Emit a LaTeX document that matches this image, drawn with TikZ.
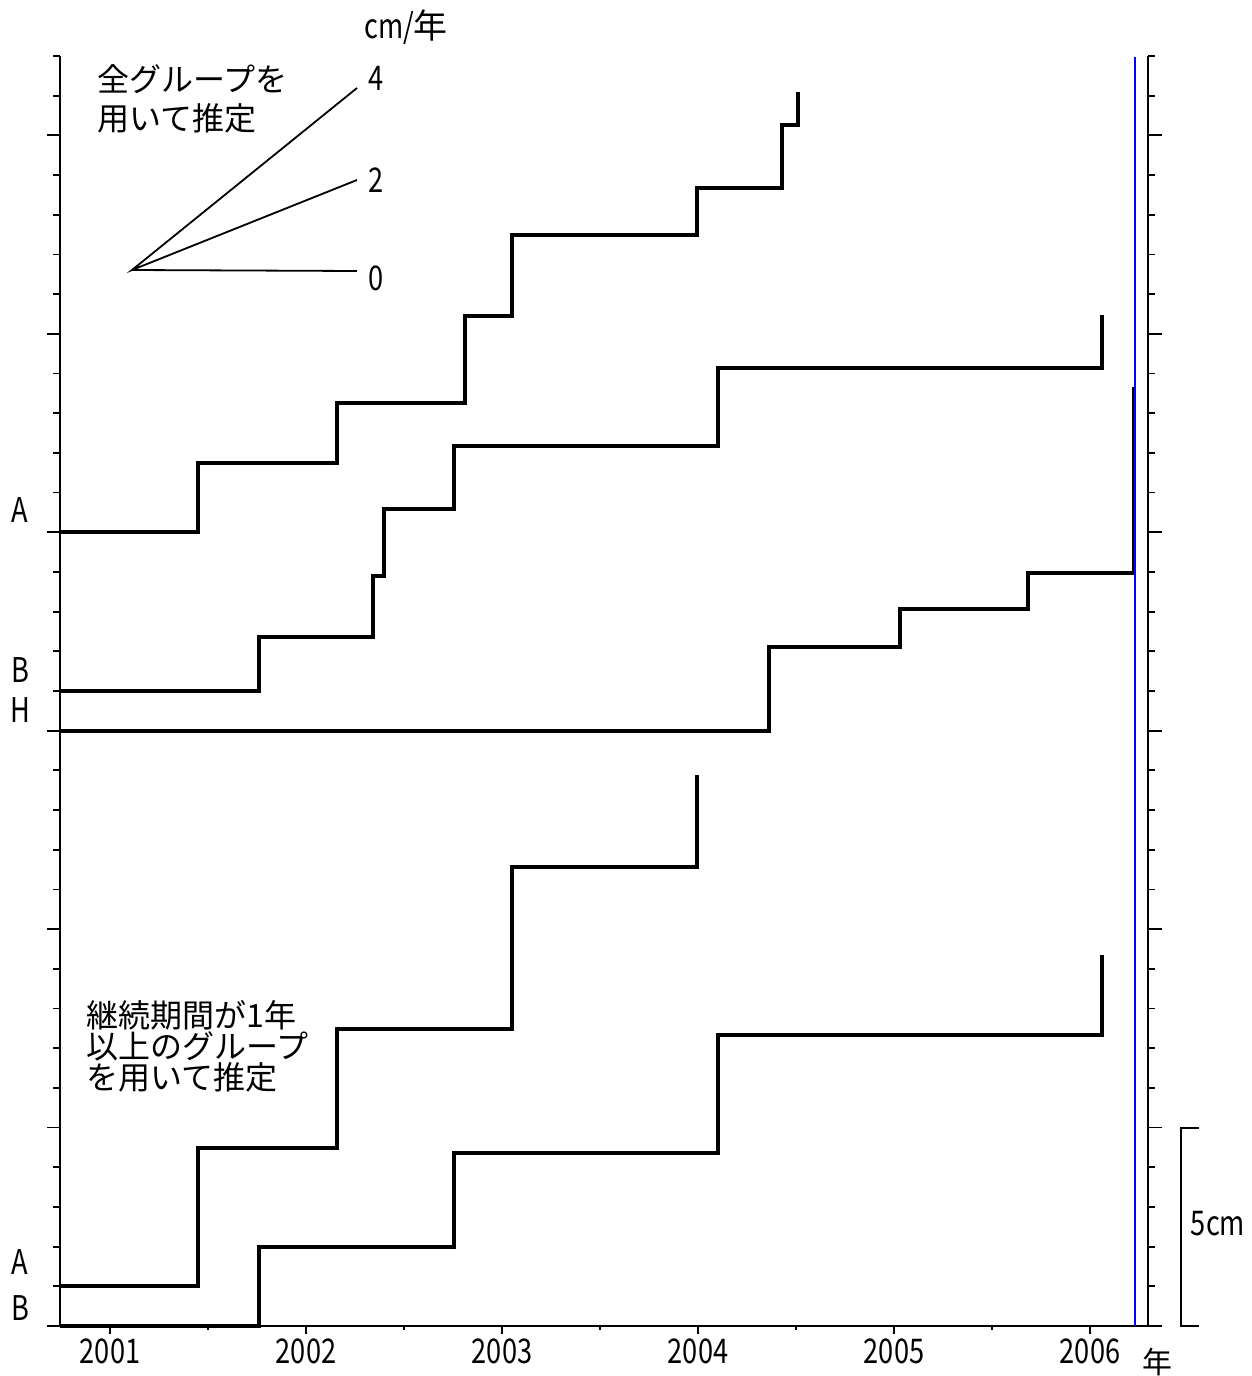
\documentclass[tikz,border=0pt]{standalone}
\usepackage{fontspec}
\setmainfont{Noto Sans CJK JP}
\newfontfamily\jpfont{Noto Sans CJK JP}
\newfontfamily\narrowfont[FakeStretch=0.8]{Noto Sans CJK JP}
\usetikzlibrary{positioning}

\begin{document}
\begin{tikzpicture}[ x = 0.5pt
                   , y = -0.5pt
                   , every node/.style = {inner sep = 0pt}
                   , axisline/.style = {line width = 0.9pt}
                   , stairline/.style = {line width = 2pt}
                   , numtext/.style = {font = \narrowfont\fontsize{17}{17}\selectfont}
                   , note/.style = { anchor = west, align = left
                                   , font = \jpfont\fontsize{16}{19.5}\selectfont}
                   ]

  \useasboundingbox (0,0) rectangle (1252,1376);

  % axes
  \draw[axisline] (60,56) -- (60,1326) -- (1148,1326) -- (1148,56);
  \foreach \k in {0,...,32} {
    \draw[axisline] (60,1326-39.6875*\k) -- ++(-7,0);
    \draw[axisline] (1148,1326-39.6875*\k) -- ++(7,0);
  }
  \foreach \k in {0,5,...,30} {
    \draw[axisline] (60,1326-39.6875*\k) -- ++(-13,0);
    \draw[axisline] (1148,1326-39.6875*\k) -- ++(14,0);
  }
  \foreach \k in {0,...,5} {
    \pgfmathtruncatemacro{\yr}{2001+\k}
    \draw[axisline] (110+196*\k,1326) -- ++(0,8);
    \node[numtext] (year\yr) at (110+196*\k,1351) {\yr};
  }
  \foreach \k in {0,...,4}
    \draw[axisline] (208+196*\k,1326) -- ++(0,4);
  \node[font = \jpfont\fontsize{15}{15}\selectfont] (nen) at (1157,1362) {年};

  % rate legend
  \coordinate (fan) at (132,270);
  \coordinate (end4) at (357,88);
  \coordinate (end2) at (357,180);
  \coordinate (end0) at (357,271);
  \draw[line width = 0.9pt] (end4) -- (fan) -- (end2) (fan) -- (end0);
  \node[numtext] (unit) at (406,27) {cm/{\jpfont 年}};
  \node[numtext] (rate4) at (376,78) {4};
  \node[numtext] (rate2) at (376,180) {2};
  \node[numtext] (rate0) at (376,278) {0};
  \node[note] (allgroups) at (97,99) {全グループを\\用いて推定};
  \node[note, font = \jpfont\fontsize{16}{15.5}\selectfont] (longgroups) at (86,1046)
    {継続期間が1年\\以上のグループ\\を用いて推定};

  % series labels
  \node[numtext] (upA) at (20,510) {A};
  \node[numtext] (upB) at (20,670) {B};
  \node[numtext] (upH) at (20,710) {H};
  \node[numtext] (lowA) at (20,1262) {A};
  \node[numtext] (lowB) at (20,1308) {B};

  % cumulative steps, all groups
  \draw[stairline] (60,532) -| (198,463) -| (337,403) -| (465,316) -| (512,235)
    -| (697,188) -| (782,125) -| (798,92);
  \draw[stairline] (60,691) -| (259,637) -| (373,576) -| (384,509) -| (454,446)
    -| (718,368) -| (1102,315);
  \draw[stairline] (60,731) -| (769,647) -| (900,609) -| (1028,573) -| (1134,387);

  % cumulative steps, groups lasting one year or more
  \draw[stairline] (60,1286) -| (198,1148) -| (337,1029) -| (512,867) -| (697,775);
  \draw[stairline] (60,1326) -| (259,1247) -| (454,1153) -| (718,1035) -| (1102,955);

  \draw[blue, line width = 0.8pt] (1135,57) -- (1135,1326);

  % scale bar
  \draw[axisline] (1199,1128) -- (1181,1128) -- (1181,1326) -- (1199,1326);
  \node[numtext] (scale) at (1218,1224) {5cm};

\end{tikzpicture}
\end{document}
